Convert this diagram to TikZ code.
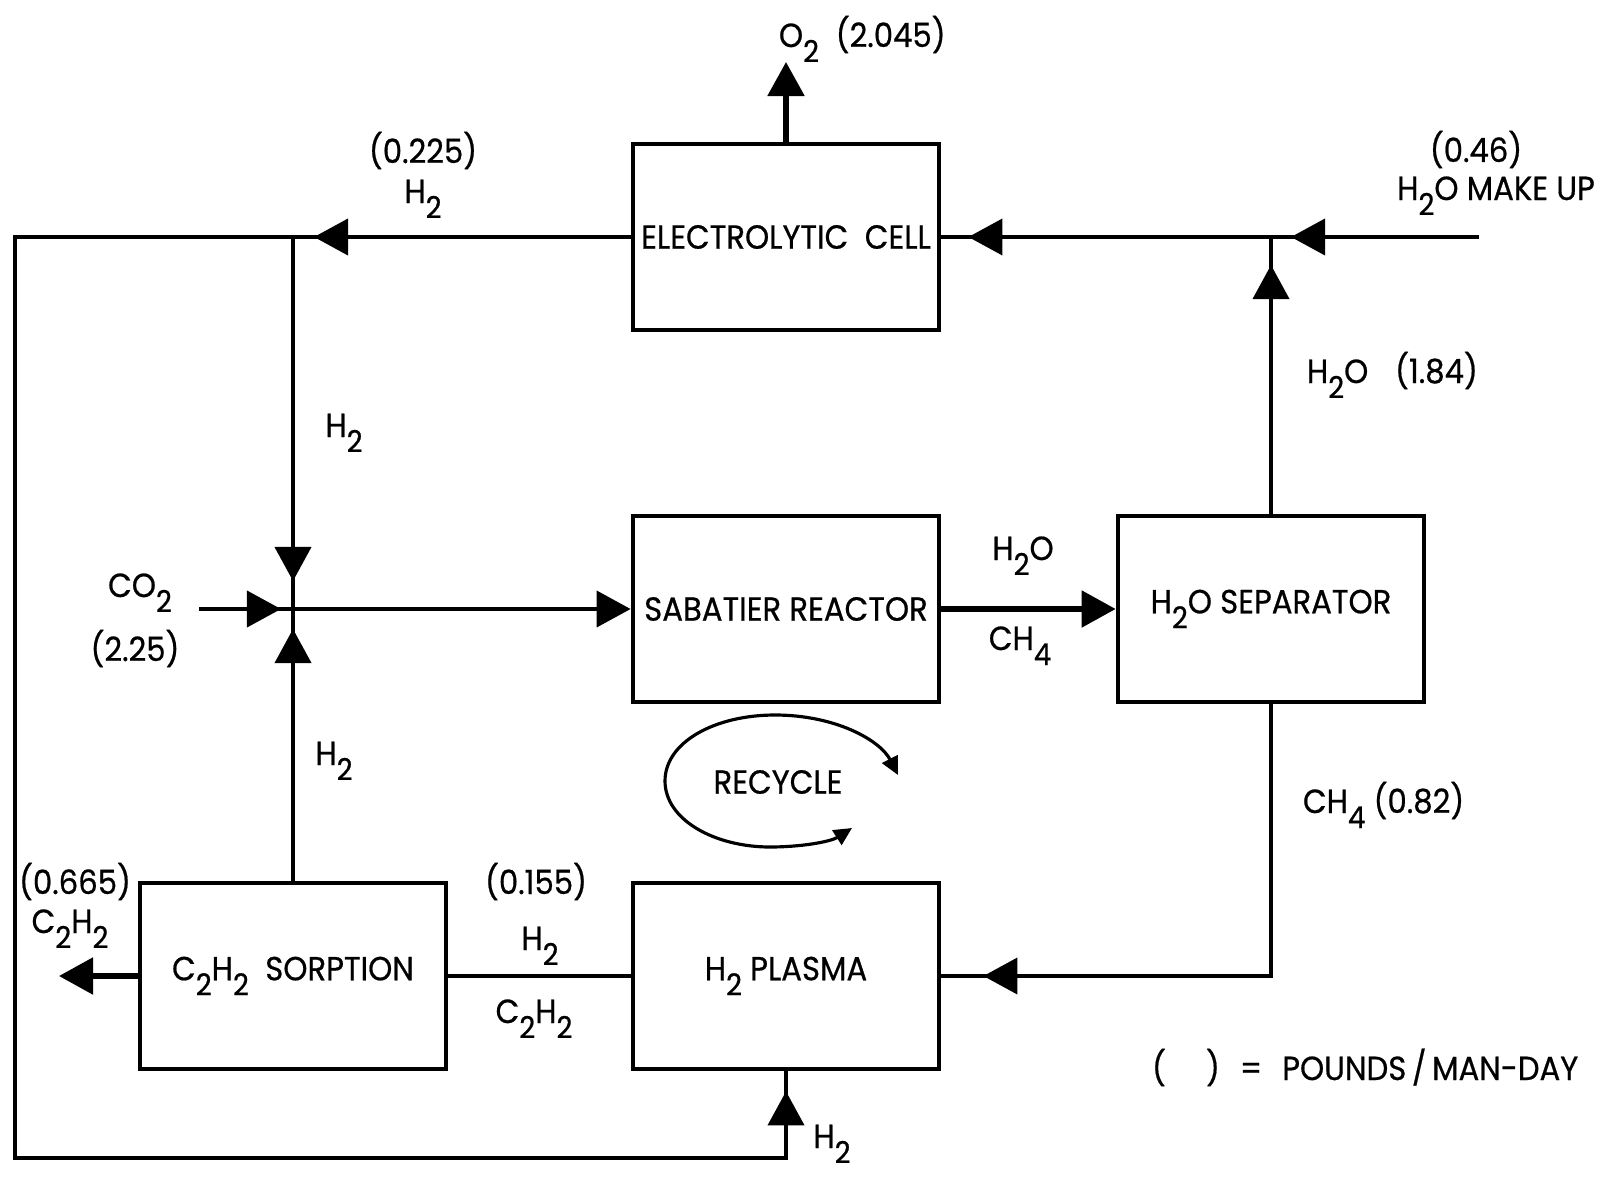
\documentclass[tikz,border=0pt]{standalone}
\usepackage{fontspec}
\setmainfont[FakeStretch=0.92,FakeBold=0.6]{Poppins}
\usetikzlibrary{arrows.meta,calc}
\newcommand{\dn}[1]{\raisebox{-0.45em}{\scalebox{0.9}{#1}}}

\begin{document}
\begin{tikzpicture}[
  x=0.01cm,y=-0.01cm,
  font=\fontsize{9.5}{11}\selectfont,
  line width=1.1pt,
  blk/.style={draw,line width=1.3pt,minimum width=3.06cm,minimum height=1.86cm,inner sep=0pt},
  tip/.style={-{Triangle[length=3.4mm,width=3.6mm]}},
  lab/.style={anchor=base,inner sep=0pt},
  >={Triangle[length=1.8mm,width=1.7mm]}
]
\useasboundingbox (0,0) rectangle (1613,1176);
% process blocks
\node[blk] (EC)  at (786,237)  {ELECTROLYTIC\ \ CELL};
\node[blk] (SR)  at (786,609)  {SABATIER REACTOR};
\node[blk] (SEP) at (1271,609) {H\dn{2}O SEPARATOR};
\node[blk] (PL)  at (786,976)  {H\dn{2} PLASMA};
\node[blk] (SO)  at (293,976)  {C\dn{2}H\dn{2}\ \ SORPTION};
% junctions and corners
\coordinate (jl) at (293,237);
\coordinate (jm) at (293,609);
\coordinate (jr) at (1271,237);
\coordinate (mk) at (1479,237);
\coordinate (co) at (199,609);
\coordinate (tl) at (15,237);
\coordinate (bl) at (15,1158);
\coordinate (ch) at (1271,976);
\coordinate (o2) at (786,62);
\coordinate (c2) at (59,976);
% oxygen out
\draw[tip,line width=1.5pt] (EC.north) -- (o2);
% hydrogen loop round the outside
\draw (EC.west) -- (jl) -- (tl) -- (bl) -- (PL.south |- bl) -- (PL.south);
\draw[tip] (EC.west) -- ($(jl)+(21,0)$);
\draw[tip] (PL.south |- bl) -- ($(PL.south)+(0,20)$);
% water into the cell
\draw (mk) -- (jr) -- (EC.east);
\draw[tip] (jr) -- ($(EC.east)+(27,0)$);
\draw[tip] (mk) -- ($(jr)+(20,0)$);
\draw (SEP.north) -- (jr);
\draw[tip] (SEP.north) -- ($(jr)+(0,28)$);
% feed to the reactor
\draw (jl) -- (jm) -- (SO.north);
\draw[tip] (jl) -- ($(jm)+(0,-28)$);
\draw[tip] (SO.north) -- ($(jm)+(0,20)$);
\draw[tip] (co) -- ($(jm)+(-12,0)$);
\draw[tip] (co) -- (SR.west);
\draw[tip,line width=1.5pt] (SR.east) -- (SEP.west);
% methane to the plasma
\draw (SEP.south) -- (ch) -- (PL.east);
\draw[tip] (ch) -- ($(PL.east)+(42,0)$);
\draw (SO.east) -- (PL.west);
\draw[tip,line width=1.5pt] (SO.west) -- (c2);
% recycle sign
\draw[line width=0.9pt,<->] (852,828) .. controls (830,842) and (800,847) .. (770,847)
  .. controls (715,847) and (665,820) .. (665,781)
  .. controls (665,742) and (715,715) .. (775,715)
  .. controls (835,715) and (880,740) .. (898,775);
\node (rc) at (778,782) {RECYCLE};
% stream labels
\node[lab,anchor=base west] (o2l) at (777,47) {O\dn{2}\hspace{0.5em}(2.045)};
\node[lab] (h2a) at (423,163) {(0.225)};
\node[lab] (h2b) at (423,203) {H\dn{2}};
\node[lab] (h2c) at (344,437) {H\dn{2}};
\node[lab] (h2d) at (334,765) {H\dn{2}};
\node[lab] (co2) at (140,597) {CO\dn{2}};
\node[lab] (co2v) at (135,661) {(2.25)};
\node[lab] (mkv) at (1476,162) {(0.46)};
\node[lab] (mkl) at (1496,200) {H\dn{2}O MAKE UP};
\node[lab,anchor=base west] (wv) at (1305,383) {H\dn{2}O\hspace{0.8em}(1.84)};
\node[lab] (wa) at (1023,560) {H\dn{2}O};
\node[lab] (ma) at (1020,650) {CH\dn{4}};
\node[lab,anchor=base west] (mv) at (1301,813) {CH\dn{4} (0.82)};
\node[lab] (av) at (75,894) {(0.665)};
\node[lab] (al) at (70,933) {C\dn{2}H\dn{2}};
\node[lab] (hv) at (536,894) {(0.155)};
\node[lab] (hl) at (540,950) {H\dn{2}};
\node[lab] (cl) at (534,1023) {C\dn{2}H\dn{2}};
\node[lab] (hb) at (832,1148) {H\dn{2}};
% legend
\node[lab,anchor=base west] (key) at (1150,1080) {(\hspace{1.2em})\hspace{0.6em}=\hspace{0.6em}POUNDS\,/\,MAN-DAY};
\end{tikzpicture}
\end{document}
